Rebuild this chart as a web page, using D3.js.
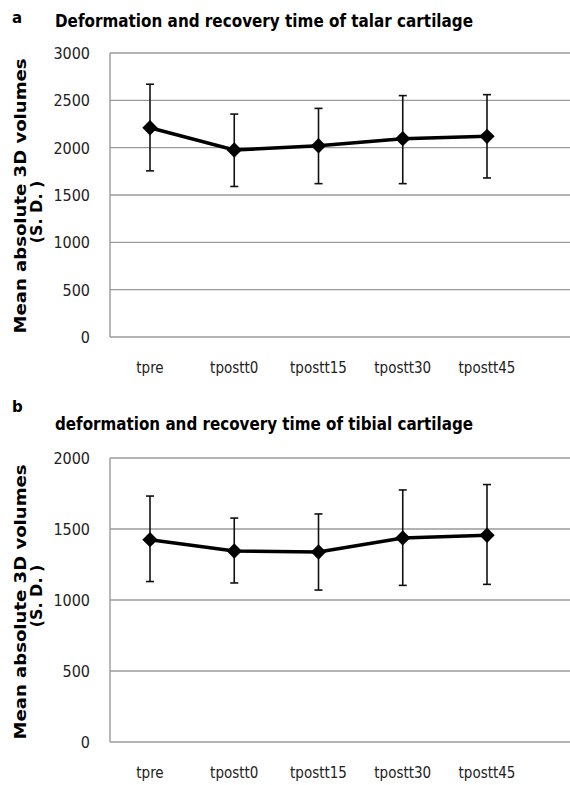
<!DOCTYPE html>
<html>
<head>
<meta charset="utf-8">
<script src="https://cdn.jsdelivr.net/npm/d3@7"></script>
<style>
  body { margin: 0; background: #fff; overflow: hidden; }
  text { font-family: "DejaVu Sans", sans-serif; }
</style>
</head>
<body>
<div id="chart"></div>
<script>
const categories = ["tpre", "tpostt0", "tpostt15", "tpostt30", "tpostt45"];

// panel a: talar cartilage
const talarMean = [2210, 1975, 2020, 2095, 2120];
const talarUpper = [2670, 2355, 2415, 2550, 2560];
const talarLower = [1755, 1590, 1620, 1620, 1680];
const talarTicks = [0, 500, 1000, 1500, 2000, 2500, 3000];

// panel b: tibial cartilage
const tibialMean = [1425, 1345, 1338, 1437, 1456];
const tibialUpper = [1732, 1577, 1606, 1775, 1813];
const tibialLower = [1130, 1120, 1070, 1103, 1110];
const tibialTicks = [0, 500, 1000, 1500, 2000];

const W = 570, H = 785;
const svg = d3.select("#chart").append("svg")
    .attr("width", W)
    .attr("height", H)
    .style("display", "block");

const PLOT_LEFT = 110, PLOT_RIGHT = 570;
const CONDENSED = "'DejaVu Sans Condensed', 'DejaVu Sans', sans-serif";

function drawPanel(opts) {
    const {letter, title, top, bottom, max, ticks, mean, upper, lower,
           letterY, titleY, labelY, labelCenter, subShift} = opts;
    const g = svg.append("g");

    const x = d3.scalePoint()
        .domain(categories)
        .range([150, 487]);

    const y = d3.scaleLinear()
        .domain([0, max])
        .range([bottom, top]);

    // panel letter + title
    g.append("text")
        .attr("x", 12).attr("y", letterY)
        .attr("font-size", 15).attr("font-weight", "bold")
        .text(letter);
    g.append("text")
        .attr("x", 55).attr("y", titleY)
        .attr("font-size", 18).attr("font-weight", "bold")
        .style("font-family", CONDENSED)
        .attr("textLength", 418).attr("lengthAdjust", "spacingAndGlyphs")
        .text(title);

    // gridlines
    g.selectAll("line.grid")
        .data(ticks)
        .enter().append("line")
        .attr("class", "grid")
        .attr("x1", PLOT_LEFT).attr("x2", PLOT_RIGHT)
        .attr("y1", d => y(d)).attr("y2", d => y(d))
        .attr("stroke", "#9a9a9a")
        .attr("stroke-width", 1.4);

    g.append("line")
        .attr("x1", PLOT_LEFT).attr("x2", PLOT_LEFT)
        .attr("y1", top).attr("y2", bottom)
        .attr("stroke", "#9a9a9a")
        .attr("stroke-width", 1.4);

    // y tick labels
    g.selectAll("text.ytick")
        .data(ticks)
        .enter().append("text")
        .attr("class", "ytick")
        .attr("x", 90)
        .attr("y", d => y(d) + 6)
        .attr("text-anchor", "end")
        .attr("font-size", 16)
        .style("font-family", CONDENSED)
        .attr("fill", "#222")
        .text(d => d);

    // x labels
    g.selectAll("text.xtick")
        .data(categories)
        .enter().append("text")
        .attr("class", "xtick")
        .attr("x", d => x(d))
        .attr("y", labelY)
        .attr("text-anchor", "middle")
        .attr("font-size", 15)
        .style("font-family", CONDENSED)
        .attr("fill", "#222")
        .text(d => d);

    // y axis title (two lines)
    const yl = g.append("g")
        .attr("transform", `translate(26,${labelCenter}) rotate(-90)`);
    yl.append("text")
        .attr("x", 0).attr("y", 0)
        .attr("text-anchor", "middle")
        .attr("font-size", 16).attr("font-weight", "bold")
        .attr("textLength", 275).attr("lengthAdjust", "spacingAndGlyphs")
        .text("Mean absolute 3D volumes");
    yl.append("text")
        .attr("x", subShift).attr("y", 16)
        .attr("text-anchor", "middle")
        .attr("font-size", 16).attr("font-weight", "bold")
        .text("(S. D. )");

    // error bars
    const rows = categories.map((c, i) => ({c, m: mean[i], hi: upper[i], lo: lower[i]}));
    g.selectAll("line.err")
        .data(rows)
        .enter().append("line")
        .attr("class", "err")
        .attr("x1", d => x(d.c)).attr("x2", d => x(d.c))
        .attr("y1", d => y(d.hi)).attr("y2", d => y(d.lo))
        .attr("stroke", "#111").attr("stroke-width", 1.6);
    ["hi", "lo"].forEach(k => {
        g.selectAll("line.cap-" + k)
            .data(rows)
            .enter().append("line")
            .attr("class", "cap-" + k)
            .attr("x1", d => x(d.c) - 4).attr("x2", d => x(d.c) + 4)
            .attr("y1", d => y(d[k])).attr("y2", d => y(d[k]))
            .attr("stroke", "#111").attr("stroke-width", 1.6);
    });

    // mean line
    const line = d3.line()
        .x(d => x(d.c))
        .y(d => y(d.m));
    g.append("path")
        .datum(rows)
        .attr("fill", "none")
        .attr("stroke", "#000")
        .attr("stroke-width", 3.5)
        .attr("d", line);

    // diamond markers
    g.selectAll("path.marker")
        .data(rows)
        .enter().append("path")
        .attr("class", "marker")
        .attr("transform", d => `translate(${x(d.c)},${y(d.m)})`)
        .attr("d", d3.symbol().type(d3.symbolDiamond2).size(150))
        .attr("fill", "#000");
}

drawPanel({
    letter: "a",
    title: "Deformation and recovery time of talar cartilage",
    top: 53, bottom: 337, max: 3000, ticks: talarTicks,
    mean: talarMean, upper: talarUpper, lower: talarLower,
    letterY: 23, titleY: 27, labelY: 373, labelCenter: 196, subShift: -16
});

drawPanel({
    letter: "b",
    title: "deformation and recovery time of tibial cartilage",
    top: 458, bottom: 742, max: 2000, ticks: tibialTicks,
    mean: tibialMean, upper: tibialUpper, lower: tibialLower,
    letterY: 412, titleY: 430, labelY: 778, labelCenter: 602, subShift: 6
});
</script>
</body>
</html>
